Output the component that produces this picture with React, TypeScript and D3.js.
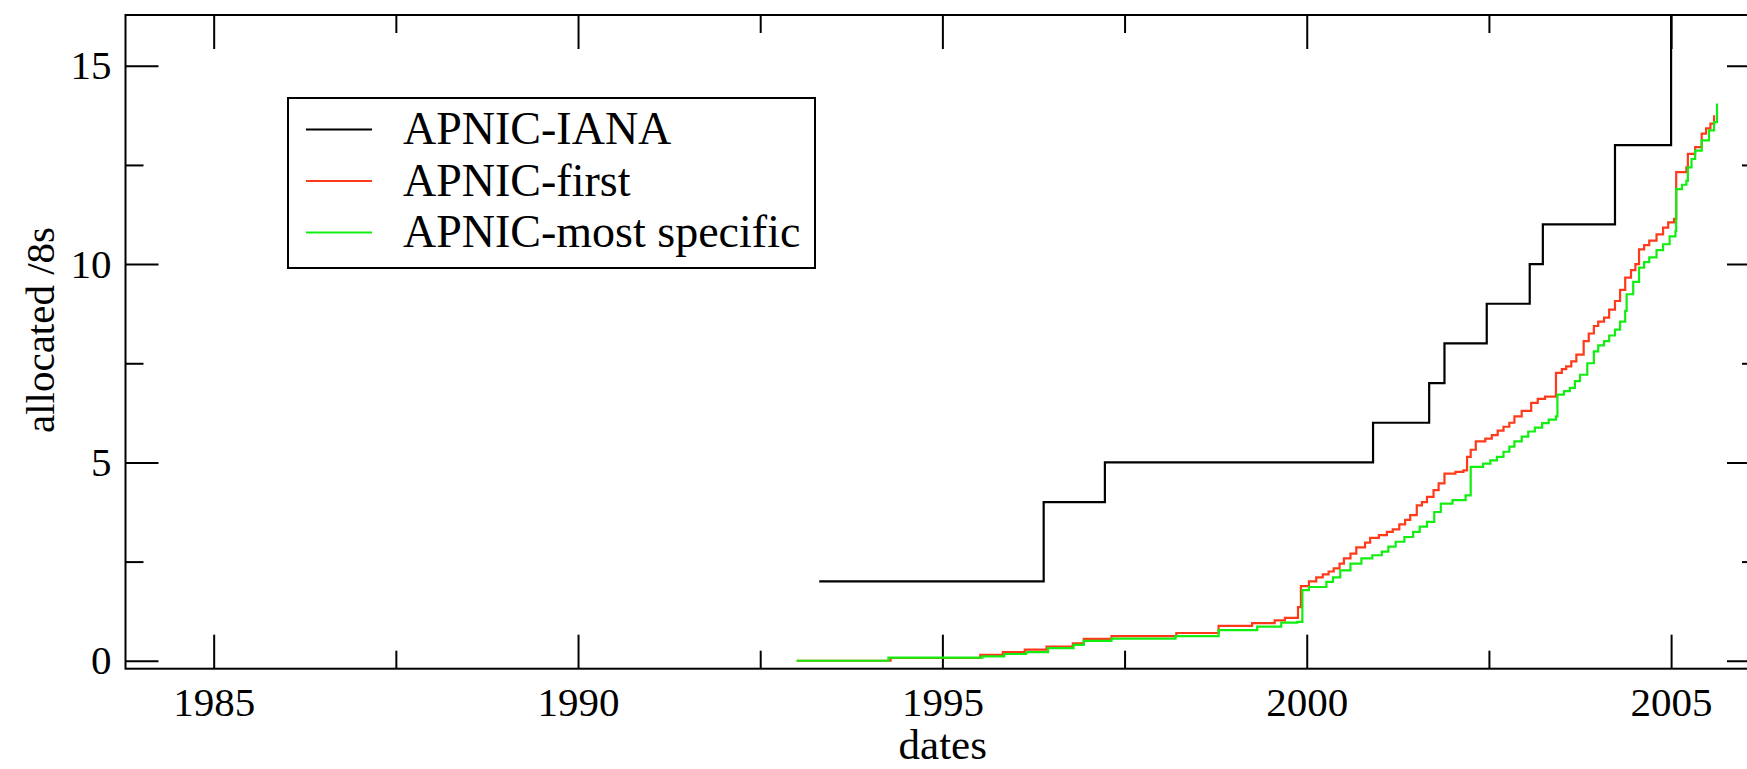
import React, { useEffect, useRef } from "react";
import * as d3 from "d3";

// decimal years and cumulative /8 counts
const ianaDates = [1993.31, 1996.39, 1997.23, 2000.91, 2001.68, 2001.89, 2002.47, 2003.06, 2003.24, 2004.23, 2005.0];
const ianaValues = [2, 4, 5, 6, 7, 8, 9, 10, 11, 13, 17];

const firstDates = [
  1993.0, 1994.29, 1995.52, 1995.83, 1996.13, 1996.43, 1996.79, 1996.94, 1997.32, 1998.21, 1998.79,
  1999.25, 1999.56, 1999.7, 1999.88, 1999.92, 2000.03, 2000.13, 2000.22, 2000.3, 2000.37, 2000.45,
  2000.51, 2000.6, 2000.68, 2000.8, 2000.87, 2000.99, 2001.1, 2001.18, 2001.27, 2001.35, 2001.42,
  2001.51, 2001.58, 2001.65, 2001.74, 2001.81, 2001.89, 2002.04, 2002.15, 2002.2, 2002.25, 2002.32,
  2002.45, 2002.54, 2002.62, 2002.7, 2002.78, 2002.85, 2002.95, 2003.08, 2003.17, 2003.27, 2003.42,
  2003.5, 2003.56, 2003.63, 2003.7, 2003.8, 2003.87, 2003.94, 2004.0, 2004.08, 2004.15, 2004.23,
  2004.3, 2004.37, 2004.45, 2004.51, 2004.56, 2004.63, 2004.7, 2004.8, 2004.89, 2004.96, 2005.04,
  2005.07, 2005.21, 2005.23, 2005.33, 2005.42, 2005.48, 2005.54, 2005.59,
];
const firstValues = [
  0, 0.07, 0.15, 0.22, 0.28, 0.36, 0.44, 0.55, 0.62, 0.7, 0.88,
  0.95, 1.02, 1.08, 1.35, 1.88, 2.0, 2.1, 2.18, 2.25, 2.33, 2.45,
  2.58, 2.7, 2.86, 2.98, 3.1, 3.17, 3.25, 3.31, 3.44, 3.55, 3.67,
  3.92, 4.0, 4.13, 4.3, 4.47, 4.72, 4.76, 4.8, 5.14, 5.32, 5.53,
  5.6, 5.69, 5.8, 5.9, 6.0, 6.16, 6.3, 6.5, 6.6, 6.66, 7.26,
  7.35, 7.42, 7.55, 7.72, 8.06, 8.25, 8.44, 8.55, 8.65, 8.85, 9.07,
  9.35, 9.66, 9.85, 10.0, 10.37, 10.48, 10.59, 10.75, 10.92, 11.05, 11.14,
  12.32, 12.44, 12.78, 12.95, 13.29, 13.42, 13.54, 13.75,
];

const specificDates = [
  1993.0, 1994.26, 1995.55, 1995.85, 1996.15, 1996.45, 1996.8, 1996.94, 1997.32, 1998.2, 1998.79,
  1999.32, 1999.65, 1999.87, 1999.94, 2000.03, 2000.27, 2000.36, 2000.46, 2000.6, 2000.75, 2000.9,
  2001.03, 2001.12, 2001.22, 2001.34, 2001.46, 2001.55, 2001.65, 2001.75, 2001.84, 2002.0, 2002.18,
  2002.25, 2002.42, 2002.52, 2002.61, 2002.7, 2002.78, 2002.85, 2002.95, 2003.04, 2003.13, 2003.23,
  2003.32, 2003.42, 2003.44, 2003.53, 2003.61, 2003.68, 2003.75, 2003.85, 2003.94, 2004.0, 2004.08,
  2004.15, 2004.23, 2004.3, 2004.37, 2004.39, 2004.48, 2004.56, 2004.63, 2004.7, 2004.8, 2004.89,
  2004.98, 2005.06, 2005.07, 2005.15, 2005.21, 2005.23, 2005.28, 2005.33, 2005.42, 2005.52, 2005.59,
  2005.63,
];
const specificValues = [
  0, 0.08, 0.11, 0.17, 0.22, 0.32, 0.4, 0.5, 0.56, 0.62, 0.77,
  0.86, 0.96, 0.98, 1.78, 1.86, 1.99, 2.1, 2.28, 2.45, 2.58, 2.66,
  2.75, 2.88, 3.0, 3.12, 3.25, 3.38, 3.5, 3.75, 3.96, 4.05, 4.17,
  4.89, 4.97, 5.05, 5.14, 5.27, 5.4, 5.53, 5.65, 5.78, 5.88, 5.99,
  6.08, 6.16, 6.71, 6.8, 6.88, 7.05, 7.21, 7.5, 7.8, 7.95, 8.06,
  8.2, 8.35, 8.55, 8.82, 9.24, 9.55, 9.91, 10.05, 10.17, 10.35, 10.5,
  10.7, 10.84, 11.89, 12.0, 12.1, 12.44, 12.65, 12.86, 13.12, 13.37, 13.58,
  14.05,
];

const seriesNames = ["APNIC-IANA", "APNIC-first", "APNIC-most specific"];
const seriesColors = ["#000000", "#ff3a1a", "#12ee12"];

const xMajorTicks = [1985, 1990, 1995, 2000, 2005];
const xMinorTicks = [1987.5, 1992.5, 1997.5, 2002.5];
const yMajorTicks = [0, 5, 10, 15];
const yMinorTicks = [2.5, 7.5, 12.5];

const W = 1747;
const H = 769;
const FONT = "'Liberation Serif', 'Times New Roman', serif";

const App: React.FC = () => {
  const ref = useRef<SVGSVGElement>(null);

  useEffect(() => {
    document.body.style.margin = "0";
    const svg = d3.select(ref.current);
    svg.selectAll("*").remove();

    const left = 125.5,
      right = 1760,
      top = 15,
      bottom = 668.7;

    const x = d3.scaleLinear().domain([1983.79, 2006.22]).range([left, right]);
    const y = d3.scaleLinear().domain([-0.2, 16.28]).range([bottom, top]);

    svg
      .append("defs")
      .append("clipPath")
      .attr("id", "plot-clip")
      .append("rect")
      .attr("x", left)
      .attr("y", top)
      .attr("width", right - left)
      .attr("height", bottom - top);

    // ticks pointing inwards on all four sides
    const styleAxis = (g: d3.Selection<SVGGElement, unknown, null, undefined>) => {
      g.select(".domain").remove();
      g.selectAll("line").attr("stroke", "#000").attr("stroke-width", 2);
      g.selectAll("text")
        .attr("fill", "#000")
        .style("font-family", FONT)
        .style("font-size", "41px");
    };

    svg
      .append("g")
      .attr("transform", `translate(0,${bottom})`)
      .call(d3.axisBottom(x).tickValues(xMajorTicks).tickSize(-34).tickPadding(18).tickFormat(d3.format("d")))
      .call(styleAxis);
    svg
      .append("g")
      .attr("transform", `translate(0,${bottom})`)
      .call(d3.axisBottom(x).tickValues(xMinorTicks).tickSize(-18).tickFormat(() => ""))
      .call(styleAxis);
    svg
      .append("g")
      .attr("transform", `translate(0,${top})`)
      .call(d3.axisTop(x).tickValues(xMajorTicks).tickSize(-34).tickFormat(() => ""))
      .call(styleAxis);
    svg
      .append("g")
      .attr("transform", `translate(0,${top})`)
      .call(d3.axisTop(x).tickValues(xMinorTicks).tickSize(-18).tickFormat(() => ""))
      .call(styleAxis);

    svg
      .append("g")
      .attr("transform", `translate(${left},0)`)
      .call(d3.axisLeft(y).tickValues(yMajorTicks).tickSize(-33).tickPadding(14).tickFormat(d3.format("d")))
      .call(styleAxis);
    svg
      .append("g")
      .attr("transform", `translate(${left},0)`)
      .call(d3.axisLeft(y).tickValues(yMinorTicks).tickSize(-18).tickFormat(() => ""))
      .call(styleAxis);
    svg
      .append("g")
      .attr("transform", `translate(${right},0)`)
      .call(d3.axisRight(y).tickValues(yMajorTicks).tickSize(-33).tickFormat(() => ""))
      .call(styleAxis);
    svg
      .append("g")
      .attr("transform", `translate(${right},0)`)
      .call(d3.axisRight(y).tickValues(yMinorTicks).tickSize(-18).tickFormat(() => ""))
      .call(styleAxis);

    // frame
    svg
      .append("rect")
      .attr("x", left)
      .attr("y", top)
      .attr("width", right - left)
      .attr("height", bottom - top)
      .attr("fill", "none")
      .attr("stroke", "#000")
      .attr("stroke-width", 2);

    const series = [
      { dates: ianaDates, values: ianaValues },
      { dates: firstDates, values: firstValues },
      { dates: specificDates, values: specificValues },
    ];

    const line = d3
      .line<[number, number]>()
      .x((d) => x(d[0]))
      .y((d) => y(d[1]))
      .curve(d3.curveStepAfter);

    const plot = svg.append("g").attr("clip-path", "url(#plot-clip)");
    series.forEach((s, i) => {
      const pts = s.dates.map((d, j) => [d, s.values[j]] as [number, number]);
      plot
        .append("path")
        .datum(pts)
        .attr("fill", "none")
        .attr("stroke", seriesColors[i])
        .attr("stroke-width", 2.2)
        .attr("d", line);
    });

    // legend
    const lg = svg.append("g");
    lg.append("rect")
      .attr("x", 288)
      .attr("y", 98)
      .attr("width", 527)
      .attr("height", 170)
      .attr("fill", "#fff")
      .attr("stroke", "#000")
      .attr("stroke-width", 2);
    seriesNames.forEach((name, i) => {
      const ly = 128 + i * 51.5;
      lg.append("line")
        .attr("x1", 306)
        .attr("x2", 372)
        .attr("y1", ly + 1.5)
        .attr("y2", ly + 1.5)
        .attr("stroke", seriesColors[i])
        .attr("stroke-width", 2.2);
      lg.append("text")
        .attr("x", 403)
        .attr("y", ly)
        .attr("dy", "0.35em")
        .style("font-family", FONT)
        .style("font-size", "46px")
        .text(name);
    });

    // axis titles
    svg
      .append("text")
      .attr("x", (left + right) / 2)
      .attr("y", 759)
      .attr("text-anchor", "middle")
      .style("font-family", FONT)
      .style("font-size", "43px")
      .text("dates");
    svg
      .append("text")
      .attr("transform", `translate(54,330) rotate(-90)`)
      .attr("text-anchor", "middle")
      .style("font-family", FONT)
      .style("font-size", "41px")
      .text("allocated /8s");
  }, []);

  return <svg ref={ref} width={W} height={H} style={{ display: "block", background: "#fff" }} />;
};

export default App;
